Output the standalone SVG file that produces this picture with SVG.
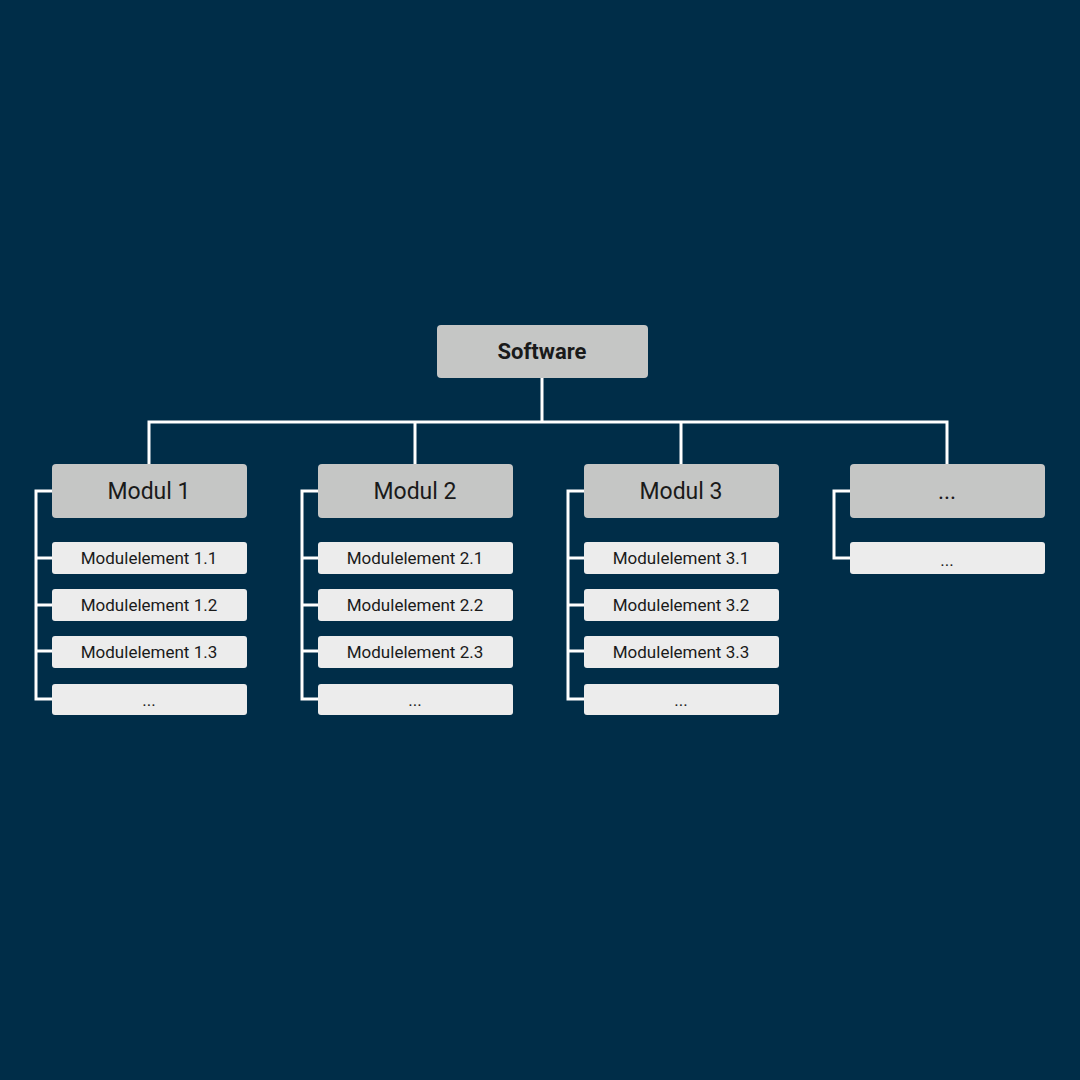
<svg xmlns="http://www.w3.org/2000/svg" width="1080" height="1080" viewBox="0 0 1080 1080">
<style>
.h{fill:#c5c6c5}
.e{fill:#ececec}
.t{font-family:Roboto,"Liberation Sans",sans-serif;fill:#1a1a1a;text-anchor:middle}
.ht{font-size:23px}
.et{font-size:17px}
.c{fill:none;stroke:#fff;stroke-width:3}
</style>
<rect width="1080" height="1080" fill="#002d48"/>
<g id="connectors" class="c">
<path d="M542 378V422M149 464V422H947V464M415 422V464M681 422V464"/>
<path d="M52 491H36V699H52M36 558H52M36 605H52M36 651H52"/>
<path d="M318 491H302V699H318M302 558H318M302 605H318M302 651H318"/>
<path d="M584 491H568V699H584M568 558H584M568 605H584M568 651H584"/>
<path d="M850 491H834V558H850"/>
</g>
<g id="software"><rect class="h" x="437" y="325" width="211" height="53" rx="4"/><text class="t" x="542" y="359" font-size="22" font-weight="bold">Software</text></g>
<g id="m1"><rect class="h" x="52" y="464" width="195" height="54" rx="4"/><text class="t ht" x="149" y="499">Modul 1</text></g>
<g id="m2"><rect class="h" x="318" y="464" width="195" height="54" rx="4"/><text class="t ht" x="415" y="499">Modul 2</text></g>
<g id="m3"><rect class="h" x="584" y="464" width="195" height="54" rx="4"/><text class="t ht" x="681" y="499">Modul 3</text></g>
<g id="m4"><rect class="h" x="850" y="464" width="195" height="54" rx="4"/><text class="t ht" x="947" y="499">...</text></g>
<g id="e11"><rect class="e" x="52" y="542" width="195" height="32" rx="3"/><text class="t et" x="149" y="564">Modulelement 1.1</text></g>
<g id="e12"><rect class="e" x="52" y="589" width="195" height="32" rx="3"/><text class="t et" x="149" y="611">Modulelement 1.2</text></g>
<g id="e13"><rect class="e" x="52" y="636" width="195" height="32" rx="3"/><text class="t et" x="149" y="658">Modulelement 1.3</text></g>
<g id="e14"><rect class="e" x="52" y="684" width="195" height="31" rx="3"/><text class="t et" x="149" y="706">...</text></g>
<g id="e21"><rect class="e" x="318" y="542" width="195" height="32" rx="3"/><text class="t et" x="415" y="564">Modulelement 2.1</text></g>
<g id="e22"><rect class="e" x="318" y="589" width="195" height="32" rx="3"/><text class="t et" x="415" y="611">Modulelement 2.2</text></g>
<g id="e23"><rect class="e" x="318" y="636" width="195" height="32" rx="3"/><text class="t et" x="415" y="658">Modulelement 2.3</text></g>
<g id="e24"><rect class="e" x="318" y="684" width="195" height="31" rx="3"/><text class="t et" x="415" y="706">...</text></g>
<g id="e31"><rect class="e" x="584" y="542" width="195" height="32" rx="3"/><text class="t et" x="681" y="564">Modulelement 3.1</text></g>
<g id="e32"><rect class="e" x="584" y="589" width="195" height="32" rx="3"/><text class="t et" x="681" y="611">Modulelement 3.2</text></g>
<g id="e33"><rect class="e" x="584" y="636" width="195" height="32" rx="3"/><text class="t et" x="681" y="658">Modulelement 3.3</text></g>
<g id="e34"><rect class="e" x="584" y="684" width="195" height="31" rx="3"/><text class="t et" x="681" y="706">...</text></g>
<g id="e41"><rect class="e" x="850" y="542" width="195" height="32" rx="3"/><text class="t et" x="947" y="566">...</text></g>
</svg>
